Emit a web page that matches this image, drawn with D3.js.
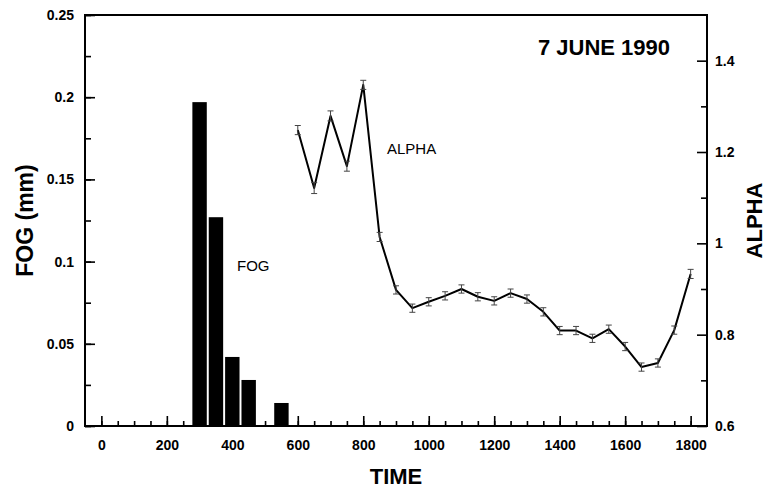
<!DOCTYPE html>
<html>
<head>
<meta charset="utf-8">
<script src="https://cdn.jsdelivr.net/npm/d3@7"></script>
<style>
  body { margin: 0; background: #fff; }
  text { font-family: "Liberation Sans", Arial, sans-serif; fill: #000; }
</style>
</head>
<body>
<svg id="chart" width="767" height="491"></svg>
<script>
// fog bars (mm)
const fogTimes = [300, 350, 400, 450, 550];
const fogValues = [0.197, 0.127, 0.042, 0.028, 0.014];

// alpha series with error bars
const alphaTimes = [600, 650, 700, 750, 800, 850, 900, 950, 1000, 1050, 1100, 1150, 1200,
  1250, 1300, 1350, 1400, 1450, 1500, 1550, 1600, 1650, 1700, 1750, 1800];
const alphaValues = [1.248, 1.121, 1.279, 1.169, 1.347, 1.014, 0.898, 0.858, 0.872, 0.885, 0.900, 0.883, 0.874,
  0.891, 0.878, 0.850, 0.809, 0.809, 0.792, 0.812, 0.774, 0.729, 0.738, 0.810, 0.933];
const alphaErr = [0.010, 0.012, 0.011, 0.011, 0.010, 0.010, 0.009, 0.009, 0.009, 0.009, 0.009, 0.009, 0.009,
  0.009, 0.009, 0.009, 0.009, 0.009, 0.009, 0.009, 0.009, 0.009, 0.009, 0.009, 0.010];

const xTickLabels = [0, 200, 400, 600, 800, 1000, 1200, 1400, 1600, 1800];
const fogTickLabels = ["0", "0.05", "0.1", "0.15", "0.2", "0.25"];
const alphaTickLabels = ["0.6", "0.8", "1", "1.2", "1.4"];

const svg = d3.select("#chart");
const margin = { top: 15, right: 60, bottom: 65, left: 85 };
const width = 767, height = 491;
const x0 = margin.left, x1 = width - margin.right;
const y0 = height - margin.bottom, y1 = margin.top;

const x = d3.scaleLinear().domain([-50, 1850]).range([x0, x1]);
const yFog = d3.scaleLinear().domain([0, 0.25]).range([y0, y1]);
const yAlpha = d3.scaleLinear().domain([0.6, 1.5]).range([y0, y1]);

// bars
const barHalf = 22;
svg.append("g").selectAll("rect")
  .data(fogTimes.map((t, i) => ({ t, v: fogValues[i] })))
  .enter().append("rect")
    .attr("x", d => x(d.t - barHalf))
    .attr("width", d => x(d.t + barHalf) - x(d.t - barHalf))
    .attr("y", d => yFog(d.v))
    .attr("height", d => y0 - yFog(d.v))
    .attr("fill", "#000");

// x axis (bottom), ticks inward
const xAxis = svg.append("g").attr("transform", `translate(0,${y0})`);
xAxis.call(d3.axisBottom(x).tickValues(d3.range(0, 1801, 50))
    .tickSize(-5).tickFormat(""));
xAxis.append("g").call(d3.axisBottom(x).tickValues(xTickLabels)
    .tickSize(-10).tickPadding(14).tickFormat(d3.format("d")));

// left axis
const yAxisL = svg.append("g").attr("transform", `translate(${x0},0)`);
yAxisL.call(d3.axisLeft(yFog).tickValues(d3.range(0, 0.26, 0.025))
    .tickSize(-6).tickFormat(""));
yAxisL.append("g").call(d3.axisLeft(yFog).tickValues(d3.range(0, 0.26, 0.05))
    .tickSize(-10).tickPadding(11).tickFormat((d, i) => fogTickLabels[i]));

// right axis
const yAxisR = svg.append("g").attr("transform", `translate(${x1},0)`);
yAxisR.call(d3.axisRight(yAlpha).tickValues([0.7, 0.9, 1.1, 1.3])
    .tickSize(-6).tickFormat(""));
yAxisR.append("g").call(d3.axisRight(yAlpha).tickValues([0.6, 0.8, 1.0, 1.2, 1.4])
    .tickSize(-10).tickPadding(8).tickFormat((d, i) => alphaTickLabels[i]));

svg.selectAll(".domain").remove();
svg.selectAll(".tick line").attr("stroke", "#000").attr("stroke-width", 1.6);
svg.selectAll(".tick text")
  .attr("font-family", "'Liberation Sans', Arial, sans-serif")
  .attr("font-size", 14).attr("font-weight", "bold").attr("fill", "#000");

// frame
svg.append("rect")
  .attr("x", x0).attr("y", y1)
  .attr("width", x1 - x0).attr("height", y0 - y1)
  .attr("fill", "none").attr("stroke", "#000").attr("stroke-width", 2);

// alpha line
const alphaData = alphaTimes.map((t, i) => ({ t, v: alphaValues[i], e: alphaErr[i] }));
svg.append("path")
  .datum(alphaData)
  .attr("fill", "none")
  .attr("stroke", "#000")
  .attr("stroke-width", 2)
  .attr("stroke-linejoin", "round")
  .attr("d", d3.line().x(d => x(d.t)).y(d => yAlpha(d.v)));

// error bars
const eb = svg.append("g").attr("stroke", "#444").attr("stroke-width", 1);
alphaData.forEach(d => {
  const cx = x(d.t), top = yAlpha(d.v + d.e), bot = yAlpha(d.v - d.e);
  eb.append("line").attr("x1", cx).attr("x2", cx).attr("y1", top).attr("y2", bot);
  eb.append("line").attr("x1", cx - 3).attr("x2", cx + 3).attr("y1", top).attr("y2", top);
  eb.append("line").attr("x1", cx - 3).attr("x2", cx + 3).attr("y1", bot).attr("y2", bot);
});

// labels
svg.append("text").attr("x", 237).attr("y", 271)
  .attr("font-size", 15).text("FOG");
svg.append("text").attr("x", 387).attr("y", 154)
  .attr("font-size", 15).text("ALPHA");
svg.append("text").attr("x", 670).attr("y", 55)
  .attr("text-anchor", "end").attr("font-size", 22).attr("font-weight", "bold")
  .text("7 JUNE 1990");

// axis titles
svg.append("text")
  .attr("x", (x0 + x1) / 2).attr("y", 484)
  .attr("text-anchor", "middle").attr("font-size", 22).attr("font-weight", "bold")
  .text("TIME");
svg.append("text")
  .attr("transform", `translate(33,${(y0 + y1) / 2}) rotate(-90)`)
  .attr("text-anchor", "middle").attr("font-size", 23).attr("font-weight", "bold")
  .text("FOG (mm)");
svg.append("text")
  .attr("transform", `translate(762,${(y0 + y1) / 2}) rotate(-90)`)
  .attr("text-anchor", "middle").attr("font-size", 22).attr("font-weight", "bold")
  .text("ALPHA");
</script>
</body>
</html>
